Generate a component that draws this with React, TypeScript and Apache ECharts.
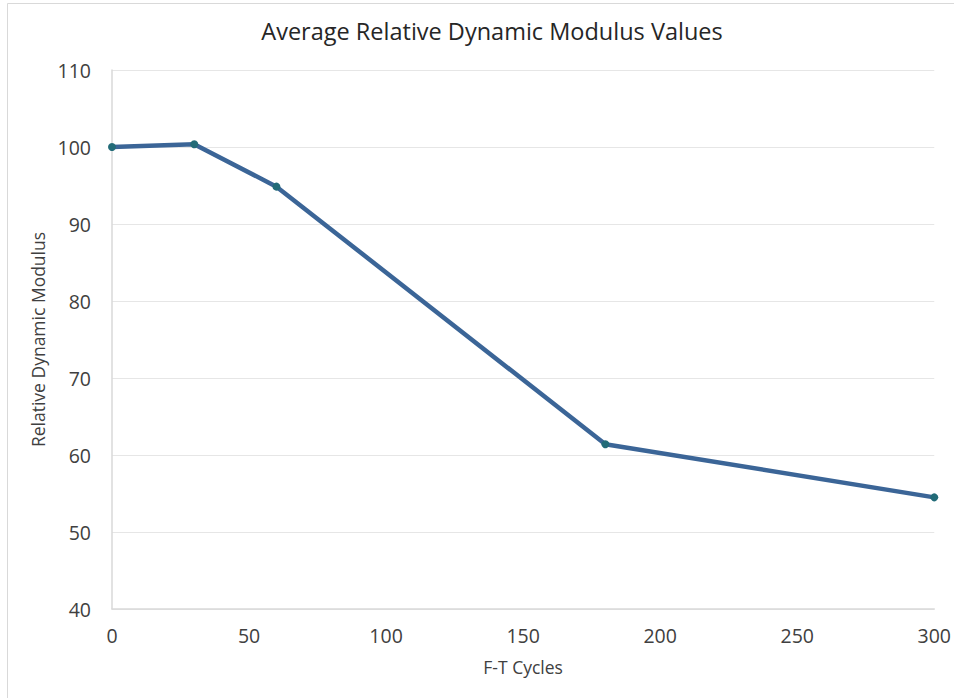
import React, { useEffect, useRef } from "react";
import * as echarts from "echarts";

const cycles = [0, 30, 60, 180, 300];
const modulus = [100, 100.35, 94.85, 61.4, 54.5];
const titleText = "Average Relative Dynamic Modulus Values";
const xName = "F-T Cycles";
const yName = "Relative Dynamic Modulus";

export default function App() {
  const ref = useRef<HTMLDivElement>(null);
  useEffect(() => {
    const chart = echarts.init(ref.current!, null, { renderer: "svg" });
    const font = "'Open Sans', 'Noto Sans', sans-serif";
    chart.setOption({
      animation: false,
      backgroundColor: "#ffffff",
      textStyle: { fontFamily: font },
      title: {
        text: titleText,
        left: 487,
        top: 14,
        textAlign: "center",
        textStyle: { fontFamily: font, fontSize: 23.5, fontWeight: "normal", color: "#262626" },
      },
      graphic: [
        {
          type: "rect",
          shape: { x: 7.5, y: 3.5, width: 960, height: 710 },
          style: { fill: "none", stroke: "#d9d9d9", lineWidth: 1 },
          silent: true,
        },
      ],
      grid: { left: 112, right: 19, top: 70, bottom: 89, containLabel: false },
      xAxis: {
        type: "value",
        min: 0,
        max: 300,
        interval: 50,
        name: xName,
        nameLocation: "middle",
        nameGap: 49,
        nameTextStyle: { fontSize: 17.5, color: "#404040", fontFamily: font },
        axisLine: { show: true, lineStyle: { color: "#d9d9d9", width: 1.5 } },
        axisTick: { show: false },
        axisLabel: { fontSize: 19.5, color: "#404040", margin: 16, fontFamily: font },
        splitLine: { show: false },
      },
      yAxis: {
        type: "value",
        min: 40,
        max: 110,
        interval: 10,
        name: yName,
        nameLocation: "middle",
        nameGap: 63,
        nameTextStyle: { fontSize: 17.5, color: "#404040", fontFamily: font },
        axisLine: { show: true, lineStyle: { color: "#d9d9d9", width: 1.5 } },
        axisTick: { show: false },
        axisLabel: { fontSize: 19.5, color: "#404040", margin: 21, fontFamily: font },
        splitLine: { show: true, lineStyle: { color: "#e6e6e6", width: 1 } },
      },
      series: [
        {
          type: "line",
          data: cycles.map((c, i) => [c, modulus[i]]),
          symbol: "circle",
          symbolSize: 8,
          lineStyle: { color: "#3B6597", width: 4.5 },
          itemStyle: { color: "#226B78", borderWidth: 0 },
          z: 3,
        },
      ],
    });
    return () => chart.dispose();
  }, []);
  return (
    <div
      ref={ref}
      style={{ position: "fixed", left: 0, top: 0, width: 954, height: 698 }}
    />
  );
}
